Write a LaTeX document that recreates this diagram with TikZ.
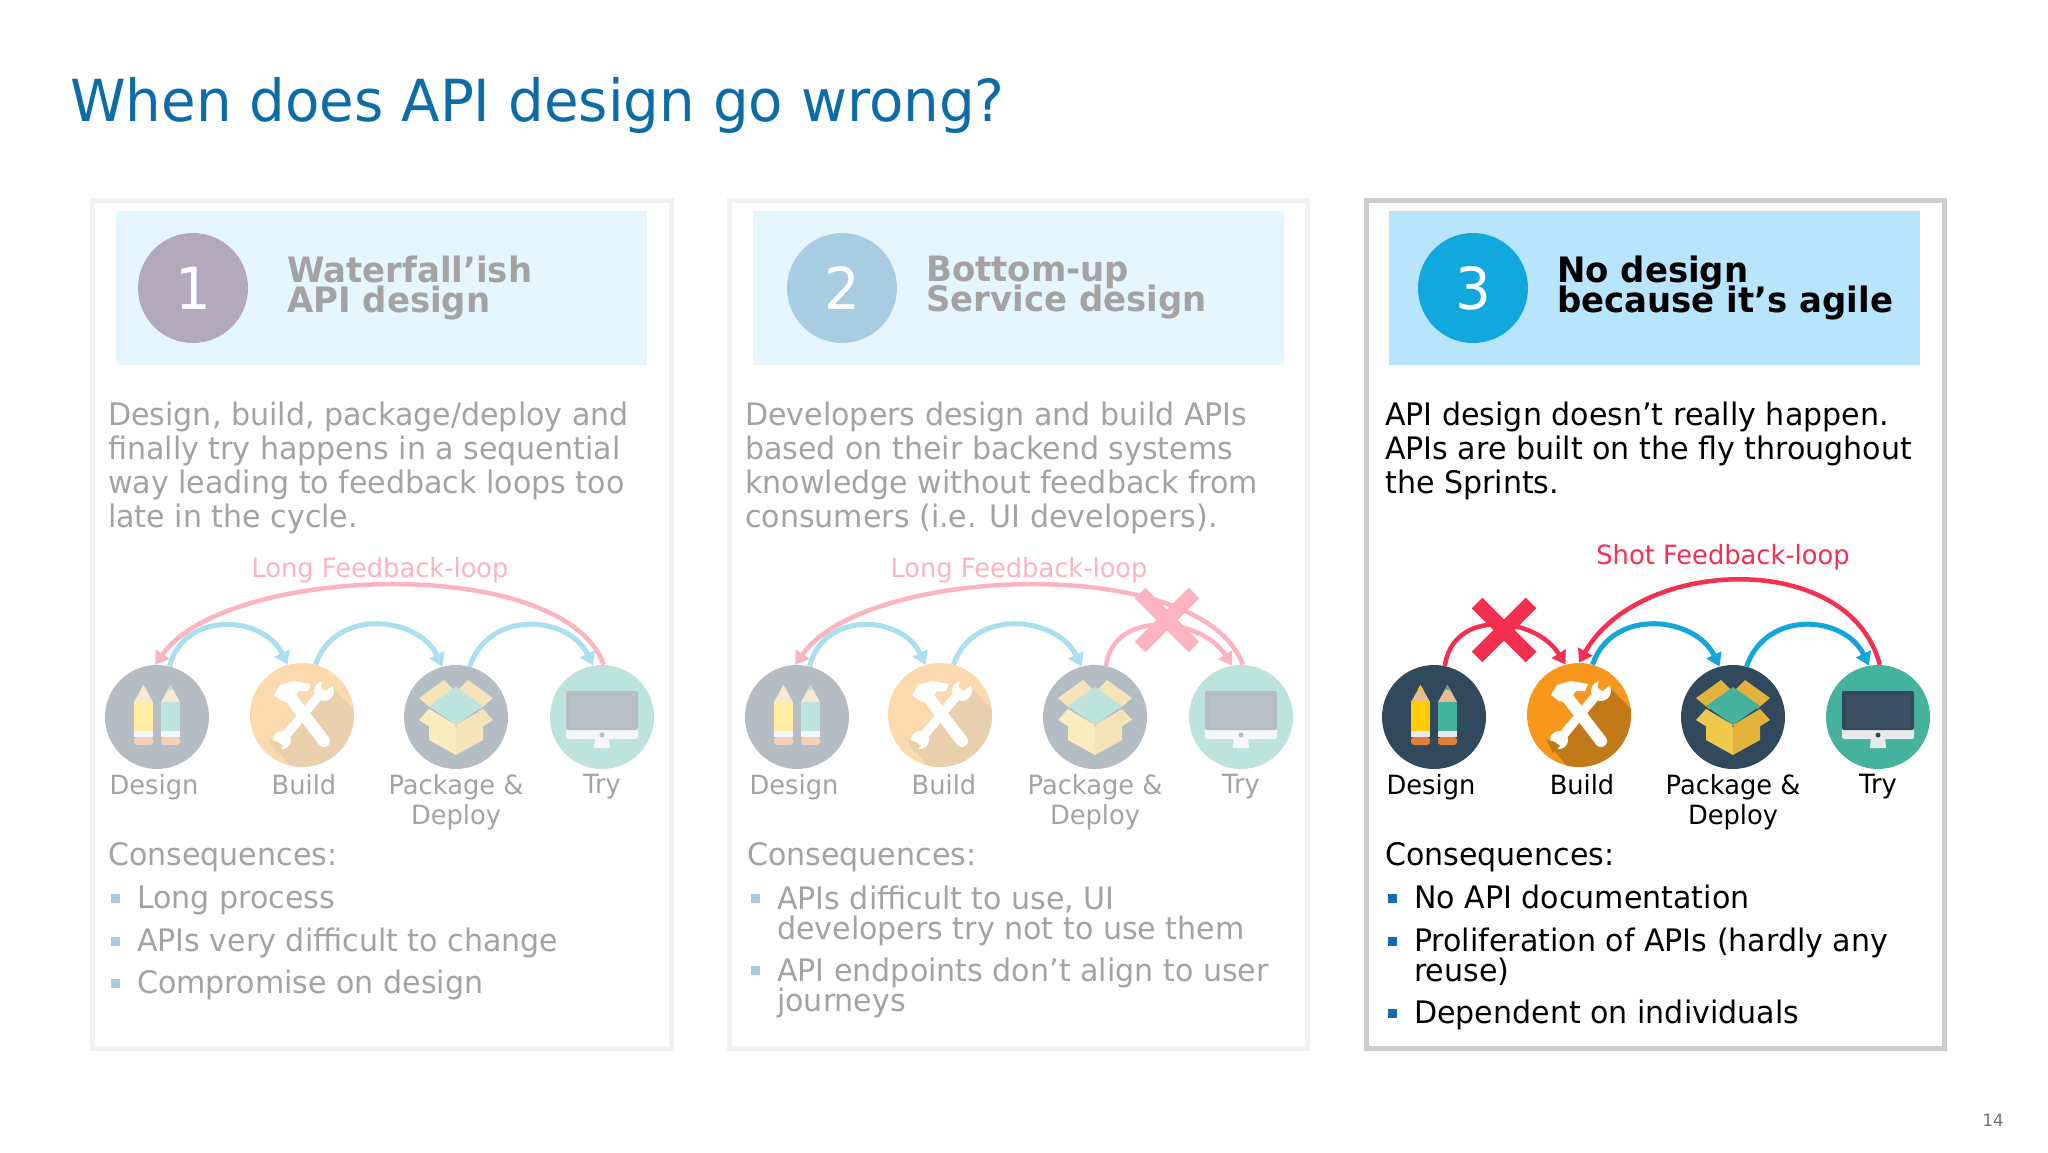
\documentclass[tikz,border=0pt]{standalone}
\usepackage{fontspec}
\setmainfont{DejaVu Sans}[FakeStretch=0.97]
\usetikzlibrary{arrows.meta}
\newcommand\tightlines{\lineskiplimit=-50pt\relax}
\definecolor{bDark}{HTML}{31495C}
\definecolor{bOrange}{HTML}{F7981D}
\definecolor{bShade}{HTML}{C27A18}
\definecolor{bTeal}{HTML}{45B29D}
\definecolor{bYellow}{HTML}{EFC94C}
\definecolor{bYellowD}{HTML}{E2B33C}
\definecolor{bPen}{HTML}{FFCC00}
\definecolor{bTan}{HTML}{E9BC8F}
\definecolor{bRust}{HTML}{E07E3C}
\definecolor{bRed}{HTML}{F52F50}
\definecolor{bBlue}{HTML}{13A6DB}
\definecolor{bHead}{HTML}{B9E5FC}
\definecolor{bBullet}{HTML}{0F6CB0}
\definecolor{bScreen}{HTML}{3C5262}
\definecolor{bSilver}{HTML}{E6EAEC}
\definecolor{titleblue}{HTML}{0B6CA8}
\definecolor{disca}{HTML}{B2AABC}
\definecolor{discb}{HTML}{A8CDE3}
\definecolor{discc}{HTML}{11A9DD}
\definecolor{borderfaint}{HTML}{F1F1F5}
\definecolor{borderfull}{HTML}{CBCBD0}
\newcommand\setfade[1]{%
  \colorlet{cDark}{bDark!#1!white}\colorlet{cOrange}{bOrange!#1!white}%
  \colorlet{cShade}{bShade!#1!white}\colorlet{cTeal}{bTeal!#1!white}%
  \colorlet{cYellow}{bYellow!#1!white}\colorlet{cYellowD}{bYellowD!#1!white}%
  \colorlet{cPen}{bPen!#1!white}\colorlet{cTan}{bTan!#1!white}%
  \colorlet{cRust}{bRust!#1!white}\colorlet{cRed}{bRed!#1!white}%
  \colorlet{cBlue}{bBlue!#1!white}\colorlet{cHead}{bHead!#1!white}%
  \colorlet{cBullet}{bBullet!#1!white}%
  \colorlet{cScreen}{bScreen!#1!white}\colorlet{cSilver}{bSilver!#1!white}%
  \colorlet{cText}{black!#1!white}}
\tikzset{
  x=1pt,y=-1pt,
  panelbox/.style={line width=5pt,fill=white},
  headbox/.style={fill=cHead},
  numdisc/.style={circle,minimum size=110pt,inner sep=0pt,text=white,font=\fontsize{58}{60}\selectfont},
  headtext/.style={anchor=north west,align=left,inner sep=0pt,text=cText,font={\fontsize{35}{30}\selectfont\bfseries\tightlines}},
  bodytext/.style={anchor=north west,align=left,inner sep=0pt,text=cText,font={\fontsize{31}{34}\selectfont\tightlines}},
  itemtext/.style={anchor=north west,align=left,inner sep=0pt,text=cText,font={\fontsize{31}{30}\selectfont\tightlines}},
  icondisc/.style={circle,minimum size=104pt,inner sep=0pt},
  iconlabel/.style={anchor=north,align=center,inner sep=0pt,text=cText,font={\fontsize{26.5}{30}\selectfont\tightlines}},
  looplabel/.style={inner sep=0pt,text=cRed,font=\fontsize{26.5}{30}\selectfont},
  bulletmark/.style={fill=cBullet,minimum size=9pt,inner sep=0pt},
  fwd/.style={draw=cBlue,line width=5pt,-{Triangle[length=13pt,width=16pt]}},
  back/.style={draw=cRed,line width=4.5pt,-{Triangle[length=13pt,width=16pt]}},
  crossbar/.style={draw=cRed,line width=15pt},
}
\newcommand\iconDesign[3]{%
  \node[icondisc,fill=cDark] (#1) at (#2,#3) {};
  \begin{scope}[shift={(#1.center)}]
    \foreach \xa/\col in {-23/cPen,4/cTeal}{
      \fill[cTan] (\xa,-15) -- (\xa+9.5,-32) -- (\xa+19,-15) -- cycle;
      \fill[\col] (\xa+9.5,-32) -- (\xa+6.5,-27) -- (\xa+12.5,-27) -- cycle;
      \fill[\col] (\xa,-15) rectangle (\xa+19,14);
      \fill[cSilver] (\xa,14) rectangle (\xa+19,20);
      \fill[cRust,rounded corners=3pt] (\xa,20) rectangle (\xa+19,28);
    }
  \end{scope}}
\newcommand\iconBuild[3]{%
  \node[icondisc,fill=cOrange] (#1) at (#2,#3) {};
  \begin{scope}[shift={(#1.center)}]
    \begin{scope}
      \clip (0,0) circle [radius=52pt];
      \fill[cShade] (24,-34) -- (70,12) -- (70,70) -- (4,70) -- (-28,32) -- (-8,4) -- cycle;
    \end{scope}
    \draw[white,line width=9pt] (19,-22) -- (-19,24);
    \fill[white] (22,-24) circle [radius=10pt];
    \fill[white] (-20,25) circle [radius=9pt];
    \fill[cOrange] (20,-38) -- (33,-32) -- (24,-24) -- (19,-27) -- cycle;
    \fill[cShade] (-26,38) -- (-33,24) -- (-24,27) -- (-19,31) -- cycle;
    \draw[white,line width=12pt,line cap=round] (-15,-22) -- (22,26);
    \fill[white] (-28,-20) -- (-22,-30) -- (-8,-34) -- (9,-31) -- (6,-24) -- (-3,-24) -- (-12,-12) -- (-20,-14) -- cycle;
  \end{scope}}
\newcommand\iconPackage[3]{%
  \node[icondisc,fill=cDark] (#1) at (#2,#3) {};
  \begin{scope}[shift={(#1.center)}]
    \fill[cYellowD] (-37,-19) -- (-12,-37) -- (0,-25) -- (-24,-8) -- cycle;
    \fill[cYellowD] (37,-19) -- (12,-37) -- (0,-25) -- (24,-8) -- cycle;
    \fill[cTeal] (-27,-11) -- (0,-30) -- (27,-11) -- (0,8) -- cycle;
    \fill[cYellow] (-27,-6) -- (0,10) -- (0,38) -- (-27,23) -- cycle;
    \fill[cYellowD] (27,-6) -- (0,10) -- (0,38) -- (27,23) -- cycle;
    \fill[cYellow] (-37,3) -- (-27,-8) -- (0,8) -- (-10,20) -- cycle;
    \fill[cYellowD] (37,3) -- (27,-8) -- (0,8) -- (10,20) -- cycle;
  \end{scope}}
\newcommand\iconTry[3]{%
  \node[icondisc,fill=cTeal] (#1) at (#2,#3) {};
  \begin{scope}[shift={(#1.center)}]
    \fill[cSilver] (-7,20) -- (7,20) -- (8,31) -- (-8,31) -- cycle;
    \fill[cSilver,rounded corners=2pt] (-36,10) rectangle (36,22);
    \fill[cDark,rounded corners=2pt] (-36,-26) rectangle (36,13);
    \fill[cScreen] (-32,-22) rectangle (32,11);
    \fill[cDark] (0,18) circle [radius=2.5pt];
  \end{scope}}
\begin{document}
\begin{tikzpicture}
\useasboundingbox (0,0) rectangle (2048,1152);
\fill[white] (0,0) rectangle (2048,1152);
\node[anchor=west,inner sep=0pt,text=titleblue,font=\fontsize{58}{66}\selectfont] (title) at (70,105) {When does API design go wrong?};
\node[inner sep=0pt,text=black!55,font=\fontsize{17}{18}\selectfont] (pageno) at (1993,1120) {14};

% ---------- panel 1 ----------
\setfade{36}
\draw[panelbox,draw=borderfaint] (92,200) rectangle (671,1048);
\fill[headbox] (116,211) rectangle (647,365);
\node[numdisc,fill=disca] (n1) at (193,288) {1};
\node[headtext] (h1) at (287,256) {Waterfall’ish\\API design};
\node[bodytext] (b1) at (108,402) {Design, build, package/deploy and\\finally try happens in a sequential\\way leading to feedback loops too\\late in the cycle.};
\iconDesign{a1}{157}{717}\iconBuild{a2}{302}{715}\iconPackage{a3}{456}{717}\iconTry{a4}{602}{717}
\node[iconlabel] (a1l) at (154,774) {Design};
\node[iconlabel] (a2l) at (304,774) {Build};
\node[iconlabel] (a3l) at (456,774) {Package \&\\Deploy};
\node[iconlabel] (a4l) at (602,774) {Try};
\node[looplabel] (al) at (380,570) {Long Feedback-loop};
\draw[back] (a4.88) .. controls +(-40,-112) and +(70,-100) .. (a1.92);
\draw[fwd] (a1.76) .. controls +(14,-56) and +(-24,-50) .. (a2.106);
\draw[fwd] (a2.75) .. controls +(20,-58) and +(-24,-50) .. (a3.105);
\draw[fwd] (a3.75) .. controls +(20,-58) and +(-24,-50) .. (a4.100);
\node[bodytext] (c1) at (108,842) {Consequences:};
\foreach \nm/\yy/\ty/\tx in {1/898/886/Long process,2/941/928/APIs very difficult to change,3/983/970/Compromise on design}{
  \node[bulletmark] (a1b\nm) at (115,\yy) {};
  \node[itemtext] (a1t\nm) at (137,\ty) {\tx};
}

% ---------- panel 2 ----------
\draw[panelbox,draw=borderfaint] (729,200) rectangle (1307,1048);
\fill[headbox] (753,211) rectangle (1284,365);
\node[numdisc,fill=discb] (n2) at (842,288) {2};
\node[headtext] (h2) at (926,256) {Bottom-up\\Service design};
\node[bodytext] (b2) at (745,402) {Developers design and build APIs\\based on their backend systems\\knowledge without feedback from\\consumers (i.e. UI developers).};
\iconDesign{d1}{797}{717}\iconBuild{d2}{940}{715}\iconPackage{d3}{1095}{717}\iconTry{d4}{1241}{717}
\node[iconlabel] (d1l) at (794,774) {Design};
\node[iconlabel] (d2l) at (944,774) {Build};
\node[iconlabel] (d3l) at (1095,774) {Package \&\\Deploy};
\node[iconlabel] (d4l) at (1241,774) {Try};
\node[looplabel] (dl) at (1019,570) {Long Feedback-loop};
\draw[back] (d4.88) .. controls +(-40,-112) and +(70,-100) .. (d1.92);
\draw[fwd] (d1.76) .. controls +(14,-56) and +(-24,-50) .. (d2.106);
\draw[fwd] (d2.75) .. controls +(20,-58) and +(-24,-50) .. (d3.105);
\draw[back] (d3.78) .. controls +(8,-58) and +(-30,-48) .. (d4.100);
\coordinate (dx) at (1167,620);
\draw[crossbar] ([shift={(-27,-27)}]dx) -- ([shift={(27,27)}]dx);
\draw[crossbar] ([shift={(27,-27)}]dx) -- ([shift={(-27,27)}]dx);
\node[bodytext] (c2) at (747,842) {Consequences:};
\node[bulletmark] (d1b1) at (755,898) {};
\node[itemtext] (d1t1) at (777,886) {APIs difficult to use, UI\\developers try not to use them};
\node[bulletmark] (d1b2) at (755,970) {};
\node[itemtext] (d1t2) at (777,958) {API endpoints don’t align to user\\journeys};

% ---------- panel 3 ----------
\setfade{100}
\draw[panelbox,draw=borderfull] (1366,200) rectangle (1944,1048);
\fill[headbox] (1389,211) rectangle (1920,365);
\node[numdisc,fill=discc] (n3) at (1473,288) {3};
\node[headtext] (h3) at (1557,256) {No design\\because it’s agile};
\node[bodytext] (b3) at (1385,402) {API design doesn’t really happen.\\APIs are built on the fly throughout\\the Sprints.};
\iconDesign{s1}{1434}{717}\iconBuild{s2}{1579}{715}\iconPackage{s3}{1733}{717}\iconTry{s4}{1878}{717}
\node[iconlabel] (s1l) at (1431,774) {Design};
\node[iconlabel] (s2l) at (1582,774) {Build};
\node[iconlabel] (s3l) at (1733,774) {Package \&\\Deploy};
\node[iconlabel] (s4l) at (1878,774) {Try};
\node[looplabel] (sl) at (1723,557) {Shot Feedback-loop};
\draw[back] (s1.78) .. controls +(8,-58) and +(-30,-48) .. (s2.105);
\draw[back] (s4.88) .. controls +(-30,-116) and +(60,-106) .. (s2.90);
\draw[fwd] (s2.75) .. controls +(20,-58) and +(-24,-50) .. (s3.105);
\draw[fwd] (s3.75) .. controls +(20,-58) and +(-24,-50) .. (s4.100);
\coordinate (sx) at (1504,630);
\draw[crossbar] ([shift={(-27,-27)}]sx) -- ([shift={(27,27)}]sx);
\draw[crossbar] ([shift={(27,-27)}]sx) -- ([shift={(-27,27)}]sx);
\node[bodytext] (c3) at (1385,842) {Consequences:};
\node[bulletmark] (s1b1) at (1392,898) {};
\node[itemtext] (s1t1) at (1414,885) {No API documentation};
\node[bulletmark] (s1b2) at (1392,941) {};
\node[itemtext] (s1t2) at (1414,928) {Proliferation of APIs (hardly any\\reuse)};
\node[bulletmark] (s1b3) at (1392,1013) {};
\node[itemtext] (s1t3) at (1414,1000) {Dependent on individuals};
\end{tikzpicture}
\end{document}
